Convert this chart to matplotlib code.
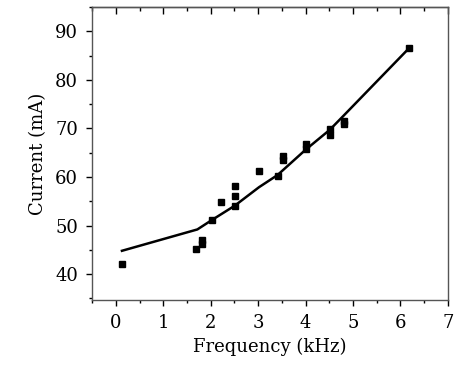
import numpy as np
import matplotlib
matplotlib.use('Agg')
import matplotlib.pyplot as plt
from matplotlib.ticker import MultipleLocator

# measured points (kHz, mA)
freq_pts = [0.13, 1.70, 1.81, 1.81, 2.02, 2.21, 2.51, 2.51, 2.51, 3.02, 3.41, 3.52, 3.52,
            4.00, 4.00, 4.51, 4.51, 4.81, 4.81, 6.18]
curr_pts = [42.0, 45.1, 46.3, 47.0, 51.1, 54.9, 58.1, 56.0, 54.1, 61.2, 60.2, 64.3, 63.6,
            66.8, 65.8, 69.9, 68.7, 71.6, 71.0, 86.5]

# model curve
freq_fit = [0.13, 1.72, 2.02, 2.51, 3.02, 3.41, 4.00, 4.51, 4.81, 6.18]
curr_fit = [44.8, 49.2, 51.1, 54.1, 57.9, 60.4, 65.6, 69.7, 72.7, 86.5]

plt.rcParams['font.family'] = 'DejaVu Serif'

fig = plt.figure(figsize=(4.65, 3.72), dpi=100)
ax = fig.add_axes([0.198, 0.194, 0.765, 0.787])

ax.plot(freq_fit, curr_fit, color='black', linewidth=1.8)
ax.plot(freq_pts, curr_pts, linestyle='none', marker='s', markersize=4.3, color='black')

ax.set_xlim(-0.5, 7)
ax.set_ylim(34.7, 95)
ax.xaxis.set_major_locator(MultipleLocator(1))
ax.xaxis.set_minor_locator(MultipleLocator(0.5))
ax.yaxis.set_major_locator(MultipleLocator(10))
ax.yaxis.set_minor_locator(MultipleLocator(5))
ax.set_yticks(np.arange(40, 91, 10))

ax.tick_params(axis='both', which='major', direction='out', length=4, width=1, labelsize=13, pad=6)
ax.tick_params(axis='both', which='minor', direction='out', length=2.5, width=1)

# top ticks point into the plot
top = ax.secondary_xaxis('top')
top.xaxis.set_major_locator(MultipleLocator(1))
top.xaxis.set_minor_locator(MultipleLocator(0.5))
top.tick_params(which='major', direction='in', length=5, width=1, labeltop=False)
top.tick_params(which='minor', direction='in', length=3, width=1)
top.spines['top'].set_linewidth(1)
top.spines['top'].set_color('#555555')

for s in ax.spines.values():
    s.set_linewidth(1)
    s.set_color('#555555')

ax.set_xlabel('Frequency (kHz)', fontsize=13, labelpad=4)
ax.set_ylabel('Current (mA)', fontsize=13, labelpad=6)

plt.savefig('out.png', dpi=100)
